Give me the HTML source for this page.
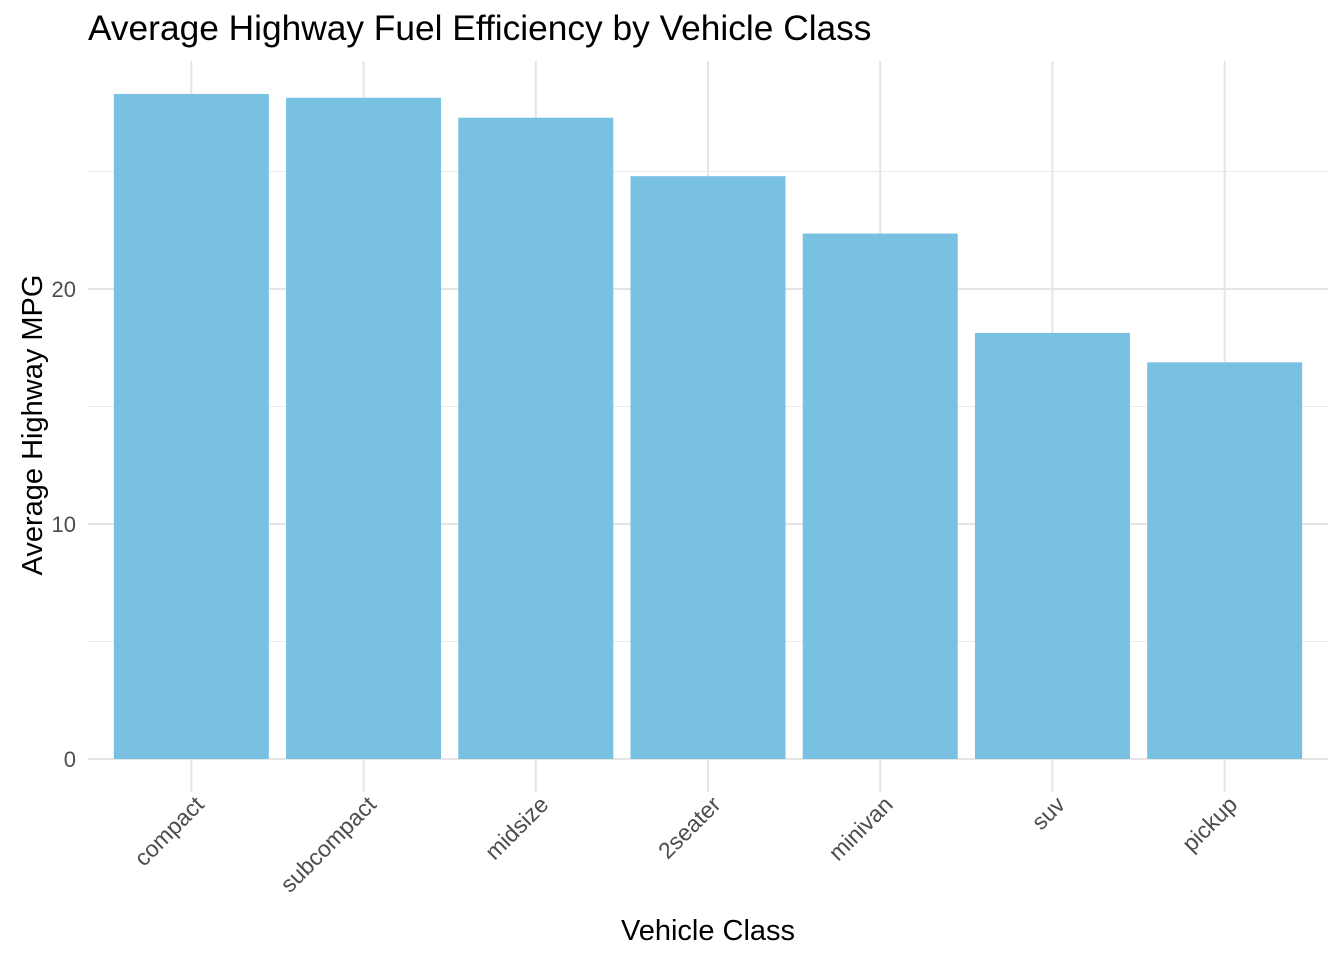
<!DOCTYPE html>
<html><head><meta charset="utf-8"><style>
body{margin:0;background:#fff;}
svg{display:block;font-family:"Liberation Sans",Arial,sans-serif;}
</style></head><body>
<svg id="chart" width="1344" height="960">
<text x="88" y="40" font-size="35.3" fill="#000">Average Highway Fuel Efficiency by Vehicle Class</text>
<g id="grid"></g><g id="bars"></g><g id="axes"></g>
<text x="708" y="940" font-size="29" text-anchor="middle" fill="#000">Vehicle Class</text>
<text transform="translate(42,425) rotate(-90)" font-size="29" text-anchor="middle" fill="#000">Average Highway MPG</text>
</svg>
<script>
const categories=["compact","subcompact","midsize","2seater","minivan","suv","pickup"];
const values=[28.3,28.14,27.29,24.8,22.36,18.13,16.88];
const yTicks=[0,10,20];
const yMinor=[5,15,25];
const SVGNS="http://www.w3.org/2000/svg";
const plotLeft=88,plotRight=1328,plotTop=61,plotBottom=792;
const yZero=759,pxPerUnit=23.5;
function yScale(v){return yZero-v*pxPerUnit;}
const bandW=(plotRight-plotLeft)/(categories.length+0.2);
function xScale(i){return plotLeft+bandW*(0.6+i);}
function mk(tag,attrs,parent){const e=document.createElementNS(SVGNS,tag);for(const k in attrs)e.setAttribute(k,attrs[k]);document.getElementById(parent).appendChild(e);return e;}
yMinor.forEach(v=>{const l=mk('line',{x1:plotLeft,x2:plotRight,y1:yScale(v),y2:yScale(v),stroke:'#ebebeb','stroke-width':1},'grid');

});
yTicks.forEach(v=>{const l=mk('line',{x1:plotLeft,x2:plotRight,y1:yScale(v),y2:yScale(v),stroke:'#e5e5e5','stroke-width':2},'grid');


const t=mk('text',{x:76,y:yScale(v)+8,'font-size':22,'text-anchor':'end',fill:'#4d4d4d'},'axes');t.textContent=v;

});
categories.forEach((c,i)=>{const cx=xScale(i);
const l=mk('line',{x1:cx,x2:cx,y1:plotTop,y2:plotBottom,stroke:'#e5e5e5','stroke-width':2},'grid');


const w=bandW*0.9;
const r=mk('rect',{x:cx-w/2,y:yScale(values[i]),width:w,height:yZero-yScale(values[i]),fill:'#78c1e3'},'bars');


const t=mk('text',{transform:`translate(${cx+14},${806}) rotate(-45)`,'font-size':23,'text-anchor':'end',fill:'#4d4d4d'},'axes');t.textContent=c;

});
</script>
</body></html>
